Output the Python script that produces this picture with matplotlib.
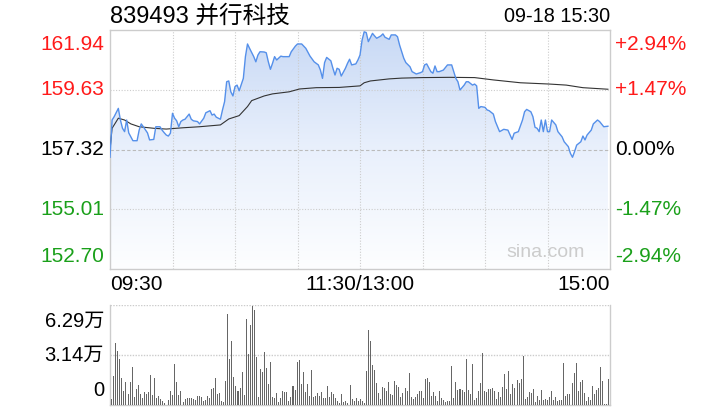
import matplotlib
matplotlib.use('Agg')
import matplotlib.pyplot as plt
from matplotlib.colors import LinearSegmentedColormap
import numpy as np

plt.rcParams['font.family'] = ['Liberation Sans', 'Noto Sans CJK SC', 'DejaVu Sans']

# ---- data ----
title = '839493 并行科技'
stamp = '09-18 15:30'
prev_close = 157.32
price_ticks = [161.94, 159.63, 157.32, 155.01, 152.70]
pct_ticks = ['+2.94%', '+1.47%', '0.00%', '-1.47%', '-2.94%']
time_labels = ['09:30', '11:30/13:00', '15:00']
vol_ticks = [6.29, 3.14, 0]
vol_tick_labels = ['6.29万', '3.14万', '0']

# minute index (0 = 09:30, 120 = 11:30/13:00, 240 = 15:00) and price
minutes = [0, 1, 2, 4, 5, 6, 7, 8, 9, 10, 11, 13, 14, 15, 16, 18, 19, 21, 22, 24,
           25, 26, 27, 28, 29, 30, 31, 32, 33, 34, 35, 36, 38, 39, 40, 42, 43, 45, 46, 48,
           49, 50, 51, 53, 54, 55, 56, 57, 58, 59, 60, 61, 62, 64, 65, 66, 67, 69, 70, 71,
           72, 74, 75, 76, 77, 78, 79, 80, 82, 83, 86, 87, 89, 90, 92, 94, 96, 98, 100, 101,
           102, 103, 104, 106, 107, 108, 109, 110, 111, 113, 114, 115, 116, 118, 119, 120, 121, 122, 123, 124,
           126, 127, 128, 130, 131, 132, 134, 135, 137, 138, 139, 141, 142, 144, 145, 147, 149, 150, 151, 152,
           154, 155, 156, 157, 158, 160, 162, 164, 165, 166, 167, 168, 170, 171, 172, 174, 175, 176, 177, 178,
           180, 181, 182, 184, 185, 187, 189, 191, 193, 194, 196, 198, 199, 200, 202, 203, 204, 205, 206, 207,
           208, 209, 210, 211, 212, 214, 215, 217, 218, 220, 221, 222, 223, 224, 226, 227, 228, 229, 231, 232,
           234, 235, 237, 239]
price = [157.02, 158.46, 158.59, 158.91, 158.46, 158.14, 158.01, 158.46, 157.96, 157.81, 157.66, 157.66, 158.07, 158.31, 158.20, 157.96, 157.69, 157.71, 158.20, 158.20,
         158.07, 157.97, 157.88, 157.84, 157.95, 158.72, 158.53, 158.43, 158.20, 158.40, 158.46, 158.49, 158.69, 158.49, 158.43, 158.40, 158.31, 158.53, 158.74, 158.82,
         158.65, 158.69, 158.57, 158.49, 158.85, 159.17, 159.94, 159.97, 159.55, 159.39, 159.75, 159.81, 159.59, 160.07, 160.91, 161.40, 161.23, 160.91, 160.71, 160.97,
         161.10, 161.09, 161.06, 160.71, 160.42, 160.65, 160.91, 160.78, 160.93, 160.91, 160.91, 161.10, 161.32, 161.40, 161.40, 161.23, 160.93, 160.71, 160.59, 160.39,
         160.07, 160.68, 160.88, 160.75, 160.46, 160.20, 160.46, 160.42, 160.16, 160.46, 160.65, 160.81, 160.59, 160.63, 160.78, 160.97, 161.55, 161.87, 161.84, 161.49,
         161.81, 161.71, 161.62, 161.71, 161.79, 161.66, 161.58, 161.75, 161.75, 161.68, 161.36, 160.85, 160.68, 160.52, 160.33, 160.24, 160.29, 160.33, 160.59, 160.63,
         160.33, 160.27, 160.55, 160.33, 160.33, 160.39, 160.59, 160.59, 160.33, 160.07, 159.94, 159.62, 159.81, 159.94, 159.94, 159.81, 159.85, 159.78, 158.91, 158.98,
         158.95, 158.85, 158.82, 158.69, 158.40, 158.01, 158.10, 158.07, 157.71, 157.95, 158.01, 158.46, 158.78, 158.87, 158.78, 158.59, 158.18, 158.14, 158.01, 158.46,
         158.01, 158.46, 158.01, 158.01, 158.46, 158.27, 158.01, 157.81, 157.62, 157.43, 157.17, 157.02, 157.24, 157.49, 157.62, 157.84, 157.69, 157.88, 158.07, 158.31,
         158.46, 158.40, 158.20, 158.22]

avg_minutes = [0, 1, 4, 7, 10, 14, 21, 27, 35, 43, 53, 57, 62, 66, 68, 74, 78, 86, 91, 99,
               110, 120, 122, 125, 134, 140, 150, 163, 175, 184, 197, 211, 219, 227, 239]
avg_price = [157.30, 158.14, 158.53, 158.46, 158.31, 158.20, 158.14, 158.11, 158.16, 158.20, 158.27, 158.50, 158.63, 158.98, 159.21, 159.39, 159.47, 159.55, 159.66, 159.71,
             159.72, 159.78, 159.90, 159.97, 160.05, 160.08, 160.10, 160.11, 160.10, 160.01, 159.90, 159.85, 159.81, 159.71, 159.65]

# volume per minute, in 万
vol_am = [0.38, 1.82, 3.88, 3.40, 2.89, 1.72, 0.88, 1.47, 0.69, 1.47,
          2.41, 0.52, 1.01, 1.26, 0.67, 0.42, 0.84, 0.67, 0.84, 1.89,
          0.63, 1.72, 0.42, 0.59, 0.38, 0.25, 0.10, 0.02, 0.31, 0.88,
          0.63, 2.58, 1.47, 0.63, 0.90, 0.21, 0.38, 0.42, 0.42, 0.42,
          0.36, 0.31, 0.57, 0.57, 0.52, 0.25, 0.31, 0.57, 0.42, 0.99,
          1.09, 1.72, 0.69, 0.78, 0.25, 0.17, 1.51, 5.72, 2.89, 4.03,
          1.78, 1.20, 0.88, 1.05, 2.05, 0.63, 5.41, 3.19, 5.03, 6.23,
          5.98, 3.04, 0.52, 2.26, 2.10, 3.31, 2.35, 1.30, 2.68, 0.52,
          0.46, 0.73, 0.17, 0.42, 0.88, 0.80, 0.80, 0.25, 0.52, 1.22,
          0.94, 2.68, 2.83, 1.30, 2.05, 0.84, 1.30, 0.59, 2.20, 0.52,
          0.59, 0.73, 0.59, 0.80, 0.46, 0.46, 1.20, 0.52, 0.80, 0.67,
          0.46, 0.25, 0.10, 0.69, 0.17, 0.25, 0.10, 1.26, 0.38, 0.25,
          0.42, 0.25, 0.38, 0.25, 0.10]
vol_pm = [2.14, 4.72, 4.03, 2.52, 2.20, 1.40, 0.78, 0.38, 1.15, 1.05,
          0.88, 1.43, 0.69, 0.63, 1.51, 1.26, 1.13, 0.52, 0.78, 1.05,
          0.88, 1.99, 0.52, 0.38, 0.52, 0.69, 0.88, 0.88, 0.46, 1.64,
          1.72, 1.43, 0.57, 0.80, 0.57, 0.25, 0.88, 0.46, 0.31, 0.17,
          0.25, 0.25, 2.47, 0.46, 1.43, 0.94, 0.99, 0.92, 0.80, 2.89,
          0.94, 0.69, 2.58, 0.31, 0.46, 0.88, 1.40, 3.25, 0.88, 0.82,
          1.01, 1.01, 1.09, 0.88, 0.38, 0.80, 0.52, 1.15, 1.95, 1.01,
          2.14, 0.69, 1.32, 1.09, 1.57, 1.40, 1.64, 3.08, 0.38, 0.52,
          0.82, 0.78, 1.01, 0.21, 0.57, 0.31, 0.94, 0.31, 0.38, 0.31,
          0.52, 0.88, 0.31, 0.52, 0.25, 0.31, 0.31, 2.66, 0.59, 0.69,
          0.69, 1.40, 1.99, 2.62, 0.88, 1.47, 1.57, 0.78, 0.25, 0.48,
          0.31, 1.20, 0.69, 0.94, 1.09, 2.41, 1.53, 0.06, 0.06, 1.64]

# colours
RED = '#ff1a1a'
GREEN = '#1aa01a'
GRID = '#cccccc'
LINE = '#5590ea'

W, H = 720, 420
fig = plt.figure(figsize=(W / 100, H / 100), dpi=100)


def box(left, top, right, bottom):
    return [left / W, 1 - bottom / H, (right - left) / W, (bottom - top) / H]


# ---- price panel ----
ax = fig.add_axes(box(110, 30, 610, 269))
lo, hi = price_ticks[-1], price_ticks[0]
ax.set_xlim(0, 240)
ax.set_ylim(lo, hi)

# gradient fill under the price line
grad = np.linspace(0, 1, 256).reshape(-1, 1)
cmap = LinearSegmentedColormap.from_list('fill', ['#fdfeff', '#e9f0fc', '#c8d9f5'])
im = ax.imshow(grad, extent=[0, 240, lo, hi], origin='lower', aspect='auto',
               cmap=cmap, zorder=1)
poly = ax.fill_between(minutes, price, lo, color='none', zorder=1)
im.set_clip_path(poly.get_paths()[0], transform=ax.transData)

for m in range(30, 240, 30):
    ax.axvline(m, color=GRID, lw=0.8, ls=(0, (1, 1.5)), zorder=2)
for v in (price_ticks[1], price_ticks[3]):
    ax.axhline(v, color=GRID, lw=0.8, ls=(0, (1, 1.5)), zorder=2)
ax.axhline(prev_close, color='#bbbbbb', lw=0.8, ls=(0, (3, 2)), zorder=2)

ax.plot(minutes, price, color=LINE, lw=1.0, zorder=4)
ax.plot(avg_minutes, avg_price, color='#333333', lw=0.8, zorder=3)

ax.set_xticks([])
ax.set_yticks([])
for s in ax.spines.values():
    s.set_color(GRID)
    s.set_linewidth(1)

tr = ax.get_yaxis_transform()
left_cols = [RED, RED, 'black', GREEN, GREEN]
vas = ['top', 'center', 'center', 'center', 'bottom']
offs = [-0.2, 0, 0, 0, 0.1]
for v, lab, c, va, o in zip(price_ticks, pct_ticks, left_cols, vas, offs):
    ax.text(-0.012, v + o, f'{v:.2f}', transform=tr, ha='right', va=va,
            color=c, fontsize=15)
    ax.text(1.01, v + o, lab, transform=tr, ha='left', va=va,
            color=c, fontsize=15)

ax.text(0.872, 0.067, 'sina.com', transform=ax.transAxes, ha='center',
        va='center', color='#cccccc', fontsize=14, zorder=5)

# header and time axis
fig.text(110 / W, 1 - 17 / H, title, ha='left', va='center', fontsize=17)
fig.text(610 / W, 1 - 17 / H, stamp, ha='right', va='center', fontsize=14.3)
fig.text(110 / W, 1 - 285 / H, time_labels[0], ha='left', va='center', fontsize=15)
fig.text(360 / W, 1 - 285 / H, time_labels[1], ha='center', va='center', fontsize=15)
fig.text(610 / W, 1 - 285 / H, time_labels[2], ha='right', va='center', fontsize=15)

# ---- volume panel ----
vol = vol_am + vol_pm
ax2 = fig.add_axes(box(110, 305, 610, 405))
xs = np.arange(len(vol))
ax2.bar(xs, vol, width=0.5, color='#666666', zorder=3)
ax2.set_xlim(-0.85, len(vol) - 1 + 0.65)
ax2.set_ylim(0, vol_ticks[0])
for v in vol_ticks[:2]:
    ax2.axhline(v, color=GRID, lw=1, ls=(0, (1, 1)), zorder=2)
ax2.set_xticks([])
ax2.set_yticks([])
ax2.spines['top'].set_visible(False)
for k in ('left', 'right', 'bottom'):
    ax2.spines[k].set_color(GRID)
    ax2.spines[k].set_linewidth(1)

tr2 = ax2.get_yaxis_transform()
for v, lab, va, o in zip(vol_ticks, vol_tick_labels, ['top', 'center', 'bottom'], [-0.4, 0, 0.3]):
    ax2.text(-0.012, v + o, lab, transform=tr2, ha='right', va=va,
             color='black', fontsize=14.5)

fig.savefig('out.png', dpi=100)
